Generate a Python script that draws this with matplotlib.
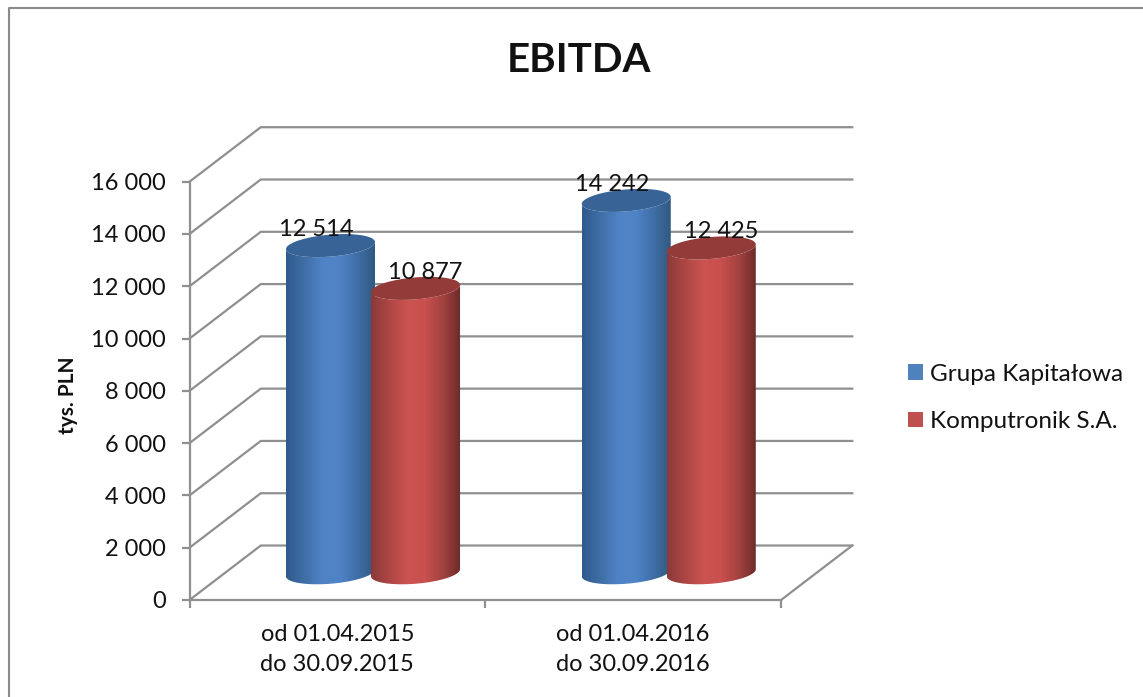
import numpy as np
import matplotlib
matplotlib.use("Agg")
import matplotlib.pyplot as plt
from matplotlib.colors import LinearSegmentedColormap
from matplotlib.lines import Line2D
from matplotlib.patches import Patch, Polygon

periods = ["od 01.04.2015\ndo 30.09.2015", "od 01.04.2016\ndo 30.09.2016"]
grupa = [12514, 14242]
komputronik = [10877, 12425]
grupa_labels = ["12 514", "14 242"]
komputronik_labels = ["10 877", "12 425"]
series_names = ["Grupa Kapitałowa", "Komputronik S.A."]
y_ticks = [0, 2000, 4000, 6000, 8000, 10000, 12000, 14000, 16000]
y_tick_labels = ["0", "2 000", "4 000", "6 000", "8 000", "10 000", "12 000", "14 000", "16 000"]

GRID = "#8f8f8f"
DEPTH_X = 0.241
DEPTH_Y = 2084
RADIUS_X = 0.1505
RADIUS_Y = 420
TILT = 135
SPACING = 0.2875

plt.rcParams["font.family"] = ["Lato", "DejaVu Sans"]

W, H = 1143, 697
fig = plt.figure(figsize=(W / 100, H / 100), dpi=100, facecolor="white")
ax = fig.add_axes([189.5 / W, 1 - 600 / H, 591.5 / W, 418.3 / H])


def project(x, y, depth):
    return x + DEPTH_X * depth, y + DEPTH_Y * depth


def cylinder(x, value, colors, top_color, z):
    cx, base = project(x, 0, 0.5)
    top = base + value
    t = np.linspace(np.pi, 2 * np.pi, 60)
    xs = cx + RADIUS_X * np.cos(t)
    low = base + TILT * np.cos(t) + RADIUS_Y * np.sin(t)
    high = top + TILT * np.cos(t) + RADIUS_Y * np.sin(t)
    outline = np.vstack([np.column_stack([xs, low]), np.column_stack([xs[::-1], high[::-1]])])

    cmap = LinearSegmentedColormap.from_list("body", colors)
    img = ax.imshow(
        np.linspace(0, 1, 200).reshape(1, -1),
        cmap=cmap,
        aspect="auto",
        extent=[cx - RADIUS_X, cx + RADIUS_X, base - 1000, top + 1000],
        zorder=z,
    )
    clip = Polygon(outline, closed=True, transform=ax.transData)
    img.set_clip_path(clip)

    t = np.linspace(0, 2 * np.pi, 120)
    ax.fill(
        cx + RADIUS_X * np.cos(t),
        top + TILT * np.cos(t) + RADIUS_Y * np.sin(t),
        color=top_color,
        lw=0,
        zorder=z + 0.1,
    )
    return cx, top


# walls and floor
for level in y_ticks:
    bx, by = project(0, level, 1)
    ex, _ = project(2, level, 1)
    ax.plot([0, bx, ex], [level, by, by], color=GRID, lw=1.6, clip_on=False, zorder=1)
fx, fy = project(2, 0, 1)
ax.plot([2, fx], [0, fy], color=GRID, lw=1.6, clip_on=False, zorder=1)

blue_colors = ["#2f5a8c", "#3f6ea6", "#4f83c6", "#4f83c6", "#3f6ea6", "#30587f"]
red_colors = ["#8a3a38", "#ad4644", "#cb5350", "#c9504e", "#a34240", "#6b2b2a"]

for i in range(len(periods)):
    x_blue = i + 0.5 - SPACING / 2
    x_red = i + 0.5 + SPACING / 2
    cx, top = cylinder(x_blue, grupa[i], blue_colors, "#376396", 3)
    ax.annotate(grupa_labels[i], (cx, top), xytext=(-10.5, 11.5), textcoords="offset points",
                ha="center", va="center", fontsize=17, color="#111111", zorder=10,
                annotation_clip=False)
    cx, top = cylinder(x_red, komputronik[i], red_colors, "#933b39", 4)
    ax.annotate(komputronik_labels[i], (cx, top), xytext=(7, 11.5), textcoords="offset points",
                ha="center", va="center", fontsize=17, color="#111111", zorder=10,
                annotation_clip=False)

ax.set_xlim(0, 2)
ax.set_ylim(0, 16000)
ax.patch.set_visible(False)
for side in ["top", "right"]:
    ax.spines[side].set_visible(False)
for side in ["left", "bottom"]:
    ax.spines[side].set_color(GRID)
    ax.spines[side].set_linewidth(1.6)
    ax.spines[side].set_zorder(1.5)

ax.set_yticks(y_ticks)
ax.set_yticklabels(y_tick_labels, fontsize=17, color="#111111")
ax.set_xticks([0, 1, 2])
ax.set_xticklabels([])
ax.set_xticks([0.5, 1.5], minor=True)
ax.set_xticklabels(periods, minor=True, fontsize=17, color="#111111", linespacing=1.58)
ax.tick_params(axis="both", which="major", color=GRID, width=1.6, length=6)
ax.tick_params(axis="y", pad=11)
ax.tick_params(axis="x", which="minor", length=0, pad=17)
ax.set_ylabel("tys. PLN", fontsize=15, fontweight="bold", color="#111111")
ax.yaxis.set_label_coords((78 - 189.5) / 591.5, (600 - 395) / 418.3)

fig.text(579 / W, 1 - 60 / H, "EBITDA", fontsize=29, fontweight="bold", ha="center", va="center", color="#111111")

handles = [Patch(facecolor="#4f81bd"), Patch(facecolor="#c0504d")]
fig.legend(handles, series_names, loc="center left", bbox_to_anchor=(908 / W, 1 - 398 / H),
           frameon=False, fontsize=17.5, handlelength=0.62, handleheight=0.62, handletextpad=0.3,
           labelspacing=1.08, borderpad=0, borderaxespad=0, labelcolor="#111111")

# outer frame of the pasted chart
fig.add_artist(Line2D([8.5 / W, 8.5 / W, 1], [0, 1 - 8 / H, 1 - 8 / H], color="#8a8a8a", lw=1.5))

fig.savefig("out.png", dpi=100)
